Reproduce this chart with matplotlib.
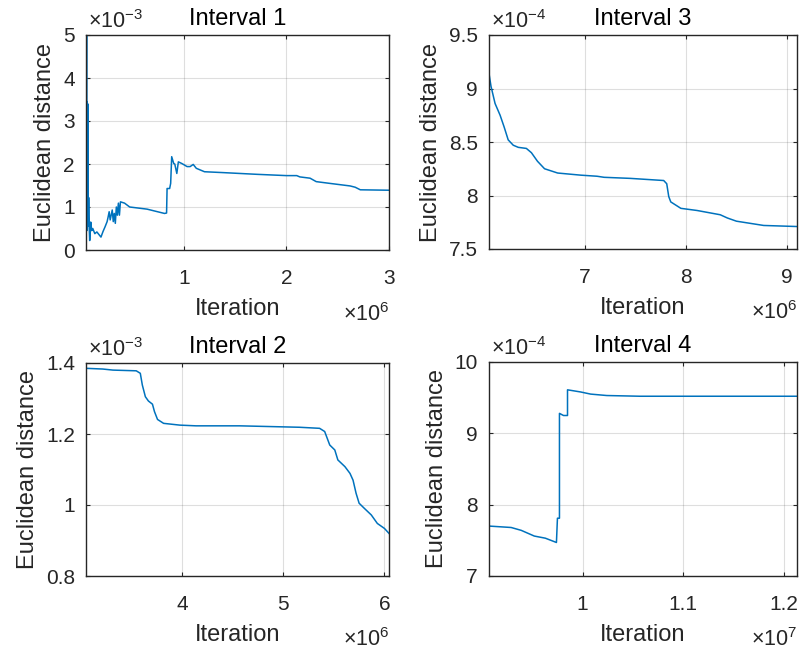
import matplotlib
matplotlib.use("Agg")
import matplotlib.pyplot as plt

plt.rcParams['font.family'] = ['Liberation Sans', 'DejaVu Sans']

# ---------------- data (x in units of the axis multiplier, y likewise) ----------------
# Interval 1: x ×1e6, y ×1e-3
iter1 = [0.044, 0.050, 0.052, 0.056, 0.059, 0.061, 0.064, 0.067, 0.070, 0.074, 0.080, 0.090,
         0.100, 0.110, 0.130, 0.150, 0.190, 0.210, 0.230, 0.250, 0.260, 0.270, 0.280, 0.300,
         0.310, 0.320, 0.330, 0.340, 0.350, 0.360, 0.370, 0.380, 0.420, 0.470, 0.640, 0.810,
         0.830, 0.835, 0.860, 0.870, 0.880, 0.900, 0.910, 0.930, 0.945, 0.980, 1.030, 1.060,
         1.090, 1.120, 1.200, 1.380, 1.710, 2.000, 2.100, 2.130, 2.230, 2.290, 2.420, 2.620,
         2.670, 2.720, 3.000]
dist1 = [0.50, 5.00, 0.45, 3.45, 1.20, 3.40, 1.22, 0.55, 1.22, 0.60, 0.22, 0.65,
         0.45, 0.50, 0.38, 0.42, 0.30, 0.43, 0.54, 0.66, 0.77, 0.89, 0.70, 0.93,
         0.66, 0.85, 0.62, 1.00, 0.81, 1.09, 0.81, 1.12, 1.09, 1.00, 0.95, 0.85,
         0.86, 1.43, 1.43, 1.55, 2.17, 2.01, 2.00, 1.78, 2.05, 2.01, 1.94, 1.94,
         1.99, 1.90, 1.82, 1.80, 1.76, 1.73, 1.73, 1.70, 1.67, 1.59, 1.55, 1.49,
         1.46, 1.40, 1.39]

# Interval 2: x ×1e6, y ×1e-3
iter2 = [3.054, 3.22, 3.32, 3.55, 3.59, 3.61, 3.64, 3.67, 3.71, 3.73, 3.76, 3.82, 3.98,
         4.14, 4.57, 5.16, 5.36, 5.41, 5.46, 5.51, 5.54, 5.61, 5.66, 5.69, 5.72, 5.75,
         5.80, 5.87, 5.93, 6.00, 6.045]
dist2 = [1.385, 1.383, 1.380, 1.378, 1.371, 1.338, 1.305, 1.293, 1.284, 1.263, 1.241,
         1.230, 1.225, 1.223, 1.223, 1.219, 1.216, 1.207, 1.169, 1.155, 1.127, 1.108,
         1.089, 1.070, 1.033, 1.005, 0.991, 0.972, 0.948, 0.934, 0.920]

# Interval 3: x ×1e6, y ×1e-4
iter3 = [6.05, 6.07, 6.11, 6.16, 6.20, 6.24, 6.29, 6.34, 6.42, 6.47, 6.53, 6.60, 6.73,
         6.96, 7.12, 7.19, 7.45, 7.78, 7.81, 7.83, 7.85, 7.95, 8.11, 8.34, 8.41, 8.50,
         8.77, 9.10]
dist3 = [9.14, 9.02, 8.86, 8.75, 8.64, 8.52, 8.47, 8.45, 8.44, 8.40, 8.32, 8.25, 8.21,
         8.19, 8.18, 8.17, 8.16, 8.14, 8.11, 7.99, 7.94, 7.88, 7.86, 7.82, 7.79, 7.76,
         7.72, 7.71]

# Interval 4: x ×1e7, y ×1e-4
iter4 = [0.907, 0.929, 0.939, 0.952, 0.963, 0.974, 0.975, 0.977, 0.977, 0.981, 0.985,
         0.985, 0.998, 1.008, 1.024, 1.057, 1.213]
dist4 = [7.70, 7.68, 7.64, 7.56, 7.53, 7.47, 7.81, 7.81, 9.28, 9.25, 9.25,
         9.61, 9.58, 9.55, 9.53, 9.52, 9.52]

titles = ["Interval 1", "Interval 2", "Interval 3", "Interval 4"]
x_mult = ["6", "6", "6", "7"]
y_mult = ["-3", "-3", "-4", "-4"]
xlims = [(0.044, 3.0), (3.054, 6.045), (6.05, 9.10), (0.907, 1.213)]
ylims = [(0, 5), (0.8, 1.4), (7.5, 9.5), (7, 10)]
xticks = [[1, 2, 3], [4, 5, 6], [7, 8, 9], [1.0, 1.1, 1.2]]
xticklabels = [["1", "2", "3"], ["4", "5", "6"], ["7", "8", "9"], ["1", "1.1", "1.2"]]
yticks = [[0, 1, 2, 3, 4, 5], [0.8, 1.0, 1.2, 1.4], [7.5, 8, 8.5, 9, 9.5], [7, 8, 9, 10]]
yticklabels = [["0", "1", "2", "3", "4", "5"], ["0.8", "1", "1.2", "1.4"],
               ["7.5", "8", "8.5", "9", "9.5"], ["7", "8", "9", "10"]]

series = [(iter1, dist1), (iter2, dist2), (iter3, dist3), (iter4, dist4)]

W, H = 799, 653
rects = [
    (86, 35, 389, 250),
    (86, 363, 389, 576),
    (489, 35, 797, 249),
    (489, 362, 797, 576),
]

fig = plt.figure(figsize=(W / 100, H / 100), dpi=100)
txt = (0.15, 0.15, 0.15)
line_c = '#0072BD'

for i in range(4):
    l, t, r, b = rects[i]
    ax = fig.add_axes([l / W, 1 - b / H, (r - l) / W, (b - t) / H])
    xs, ys = series[i]
    ax.plot(xs, ys, color=line_c, lw=1.1)
    ax.set_xlim(*xlims[i])
    ax.set_ylim(*ylims[i])
    ax.set_xticks(xticks[i])
    ax.set_xticklabels(xticklabels[i])
    ax.set_yticks(yticks[i])
    ax.set_yticklabels(yticklabels[i])
    ax.grid(True, color=txt, alpha=0.15, lw=0.8)
    ax.tick_params(direction='in', length=3, width=0.8, colors=txt, labelsize=15,
                   top=True, right=True)
    ax.tick_params(axis='x', pad=14)
    ax.tick_params(axis='y', pad=8)
    for s in ax.spines.values():
        s.set_color(txt)
        s.set_linewidth(1.0)
    ax.set_title(titles[i], fontsize=17, color='black', pad=7)
    ax.set_xlabel("Iteration", fontsize=17, color=txt, labelpad=7)
    ax.set_ylabel("Euclidean distance", fontsize=17, color=txt, labelpad=5)
    ax.text(0.005, 1.01, r'$\mathregular{\times10^{%s}}$' % y_mult[i], transform=ax.transAxes,
            ha='left', va='bottom', fontsize=15.5, color=txt)
    ax.text(1.0, -0.245, r'$\mathregular{\times10^{%s}}$' % x_mult[i], transform=ax.transAxes,
            ha='right', va='top', fontsize=15.5, color=txt)

fig.savefig("out.png", dpi=100, facecolor='white')
